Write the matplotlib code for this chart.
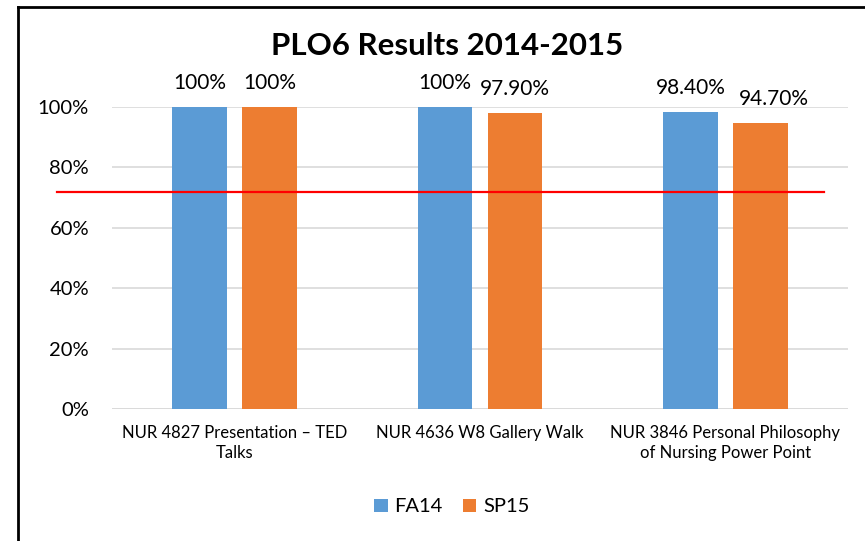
import matplotlib.pyplot as plt
import matplotlib.transforms as mtransforms
from matplotlib.lines import Line2D
import numpy as np

plt.rcParams['font.family'] = ['Lato', 'DejaVu Sans']

# data
categories = ["NUR 4827 Presentation \u2013 TED\nTalks",
              "NUR 4636 W8 Gallery Walk",
              "NUR 3846 Personal Philosophy\nof Nursing Power Point"]
fa14 = [100, 100, 98.4]
sp15 = [100, 97.9, 94.7]
series_names = ["FA14", "SP15"]
target = 72

blue = "#5B9BD5"
orange = "#ED7D31"


def pct_label(v):
    return "100%" if v == 100 else f"{v:.2f}%"


fig = plt.figure(figsize=(8.65, 5.41), dpi=100)
ax = fig.add_axes([112 / 865, 132 / 541, 736 / 865, 302 / 541])

x = np.arange(len(categories))
w = 0.224
off = 0.1427
b1 = ax.bar(x - off, [v / 100 for v in fa14], w, color=blue, label=series_names[0])
b2 = ax.bar(x + off, [v / 100 for v in sp15], w, color=orange, label=series_names[1])

# value labels above bars (excel nudges the last one right so they don't collide)
for si, (bars, vals) in enumerate([(b1, fa14), (b2, sp15)]):
    for ci, (rect, v) in enumerate(zip(bars, vals)):
        dx = 10 if (si == 1 and ci == 2) else 0
        ax.annotate(pct_label(v), (rect.get_x() + rect.get_width() / 2, rect.get_height()),
                    xytext=(dx, 13), textcoords="offset points",
                    ha="center", va="baseline", fontsize=15, color="#000000")

ax.set_xlim(-0.5, 2.5)
ax.set_ylim(0, 1)
ax.set_yticks(np.arange(0, 1.01, 0.2))
ax.set_yticklabels([f"{int(round(t * 100))}%" for t in np.arange(0, 1.01, 0.2)], fontsize=14.5)
ax.set_xticks(x)
ax.set_xticklabels(categories, fontsize=12, linespacing=1.3)
ax.tick_params(axis="both", length=0)
ax.tick_params(axis="y", pad=16.5)
ax.tick_params(axis="x", pad=11.5)
for s in ax.spines.values():
    s.set_visible(False)
ax.grid(axis="y", color="#D9D9D9", lw=1.2)
ax.set_axisbelow(True)
ax.axhline(0, color="#D9D9D9", lw=1.2, zorder=0.5)

# target line (extends past the plot area on the left)
trans = mtransforms.blended_transform_factory(ax.transAxes, ax.transData)
ax.plot([-0.075, 0.967], [target / 100, target / 100], color="#FF0000", lw=1.6,
        transform=trans, clip_on=False, zorder=3)

fig.text(447 / 865, 1 - 55 / 541, "PLO6 Results 2014-2015", ha="center", va="baseline",
         fontsize=22.5, fontweight="bold")

fig.legend(loc="center", bbox_to_anchor=(452 / 865, 1 - 507 / 541), ncol=2, frameon=False,
           fontsize=14.5, handlelength=0.65, handleheight=0.65, handletextpad=0.35,
           columnspacing=1.0)

# frame lines at left and top
fig.add_artist(Line2D([18 / 865, 18 / 865], [0, 1 - 7 / 541], color="black", lw=2,
                      transform=fig.transFigure))
fig.add_artist(Line2D([18 / 865, 1], [1 - 7 / 541, 1 - 7 / 541], color="black", lw=2,
                      transform=fig.transFigure))

fig.savefig("out.png", dpi=100)
